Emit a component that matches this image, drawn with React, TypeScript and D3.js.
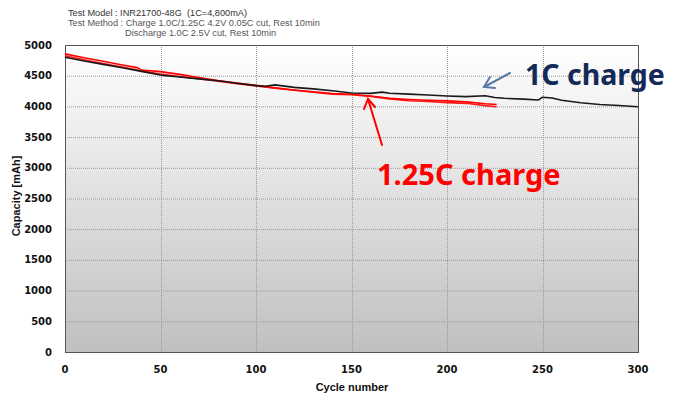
import React from "react";
import * as d3 from "d3";

const W = 678;
const H = 401;

const xTicks = [0, 50, 100, 150, 200, 250, 300];
const yTicks = [0, 500, 1000, 1500, 2000, 2500, 3000, 3500, 4000, 4500, 5000];

// 1C charge (black)
const blackCycles = [0, 10, 20, 30, 40, 50, 60, 70, 80, 90, 100, 105, 110, 115, 120, 130, 140, 150, 160, 166, 170, 180, 190, 200, 210, 220, 225, 230, 240, 248, 250, 255, 260, 270, 280, 290, 300];
const blackCap = [4800, 4740, 4685, 4630, 4570, 4510, 4478, 4448, 4418, 4378, 4338, 4328, 4350, 4330, 4310, 4285, 4255, 4218, 4212, 4232, 4214, 4200, 4185, 4170, 4160, 4174, 4146, 4132, 4118, 4105, 4150, 4138, 4100, 4060, 4032, 4015, 3995];

// 1.25C charge (red) – cell A
const redACycles = [0, 10, 20, 30, 38, 40, 50, 60, 70, 80, 90, 100, 110, 120, 130, 140, 150, 160, 170, 180, 190, 200, 210, 220, 226];
const redACap = [4855, 4792, 4735, 4675, 4632, 4592, 4566, 4522, 4472, 4422, 4382, 4342, 4302, 4268, 4238, 4208, 4198, 4170, 4130, 4112, 4100, 4090, 4074, 4042, 4030];

// 1.25C charge (red) – cell B
const redBCycles = [0, 10, 20, 30, 40, 50, 60, 70, 80, 90, 100, 110, 120, 130, 140, 150, 160, 170, 180, 190, 200, 210, 220, 226];
const redBCap = [4825, 4760, 4700, 4642, 4582, 4528, 4488, 4450, 4412, 4370, 4332, 4298, 4262, 4230, 4200, 4190, 4160, 4122, 4092, 4080, 4062, 4050, 4012, 3995];

const M = { left: 65, right: 638, top: 45, bottom: 352 };

export default function App() {
  const x = d3.scaleLinear().domain([0, 300]).range([M.left, M.right]);
  const y = d3.scaleLinear().domain([0, 5000]).range([M.bottom, M.top]);
  const line = d3
    .line<[number, number]>()
    .x((d) => x(d[0]))
    .y((d) => y(d[1]))
    .curve(d3.curveLinear);

  const series = [
    { c: redBCycles, v: redBCap, color: "#ff1a1a" },
    { c: redACycles, v: redACap, color: "#ff0000" },
    { c: blackCycles, v: blackCap, color: "#1a1a1a" },
  ];

  return (
    <svg
      width={W}
      height={H}
      style={{ position: "absolute", left: 0, top: 0, background: "#fff" }}
    >
      <defs>
        <linearGradient id="bg" x1="0" y1="0" x2="0" y2="1">
          <stop offset="0%" stopColor="#ffffff" />
          <stop offset="100%" stopColor="#c0c0c0" />
        </linearGradient>
      </defs>

      <g fontFamily="'Liberation Sans', Arial, sans-serif" fontSize={9.2}>
        <text x={68} y={15.5} fill="#333">Test Model : INR21700-48G&#160;&#160;(1C=4,800mA)</text>
        <text x={68} y={25.5} fill="#555">Test Method : Charge 1.0C/1.25C 4.2V 0.05C cut, Rest 10min</text>
        <text x={125} y={35.5} fill="#555">Discharge 1.0C 2.5V cut, Rest 10min</text>
      </g>

      <rect
        x={M.left}
        y={M.top}
        width={M.right - M.left}
        height={M.bottom - M.top}
        fill="url(#bg)"
      />

      {yTicks.slice(1, -1).map((t) => (
        <line
          key={"gy" + t}
          x1={M.left}
          x2={M.right}
          y1={y(t) + 0.5}
          y2={y(t) + 0.5}
          stroke="#9a9a9a"
          strokeWidth={1}
          strokeDasharray="1,1"
        />
      ))}
      {xTicks.slice(1, -1).map((t) => (
        <line
          key={"gx" + t}
          x1={Math.round(x(t)) + 0.5}
          x2={Math.round(x(t)) + 0.5}
          y1={M.top}
          y2={M.bottom}
          stroke="#9a9a9a"
          strokeWidth={1}
          strokeDasharray="1,1"
        />
      ))}

      <rect
        x={M.left + 0.5}
        y={M.top + 0.5}
        width={M.right - M.left}
        height={M.bottom - M.top}
        fill="none"
        stroke="#555"
        strokeWidth={1}
      />

      {series.map((s, i) => (
        <path
          key={i}
          d={line(s.c.map((c, j) => [c, s.v[j]] as [number, number])) || ""}
          fill="none"
          stroke={s.color}
          strokeWidth={1.6}
          strokeLinejoin="round"
        />
      ))}

      <g fontFamily="'DejaVu Sans', Verdana, sans-serif" fontWeight="bold" fontSize={10} fill="#111">
        {yTicks.map((t) => (
          <text key={"ty" + t} x={52} y={y(t)} textAnchor="end" dominantBaseline="central">
            {t}
          </text>
        ))}
        {xTicks.map((t) => (
          <text key={"tx" + t} x={x(t)} y={369} textAnchor="middle" dominantBaseline="central">
            {t}
          </text>
        ))}
      </g>

      <text
        x={352}
        y={391}
        textAnchor="middle"
        fontFamily="'Liberation Sans', Arial, sans-serif"
        fontWeight="bold"
        fontSize={11}
        fill="#111"
      >
        Cycle number
      </text>
      <text
        transform="translate(20,196) rotate(-90)"
        textAnchor="middle"
        fontFamily="'Liberation Sans', Arial, sans-serif"
        fontWeight="bold"
        fontSize={11}
        fill="#111"
      >
        Capacity [mAh]
      </text>

      {/* 1C annotation */}
      <g stroke="#5a7aa6" strokeWidth={2} fill="none" strokeLinecap="round">
        <line x1={510} y1={73} x2={484} y2={87} />
        <polyline points="490,77 484,87 495,88" />
      </g>
      <text
        x={525}
        y={85}
        fontFamily="'Noto Sans', sans-serif"
        fontWeight="bold"
        fontSize={28.5}
        fill="#142a58"
      >
        1C charge
      </text>

      {/* 1.25C annotation */}
      <g stroke="#ff0000" strokeWidth={2} fill="none" strokeLinecap="round">
        <line x1={382} y1={145} x2={368} y2={99} />
        <polyline points="364,109 368,99 375,107" />
      </g>
      <text
        x={377}
        y={185}
        fontFamily="'Noto Sans', sans-serif"
        fontWeight="bold"
        fontSize={29}
        fill="#ff0000"
      >
        1.25C charge
      </text>
    </svg>
  );
}
